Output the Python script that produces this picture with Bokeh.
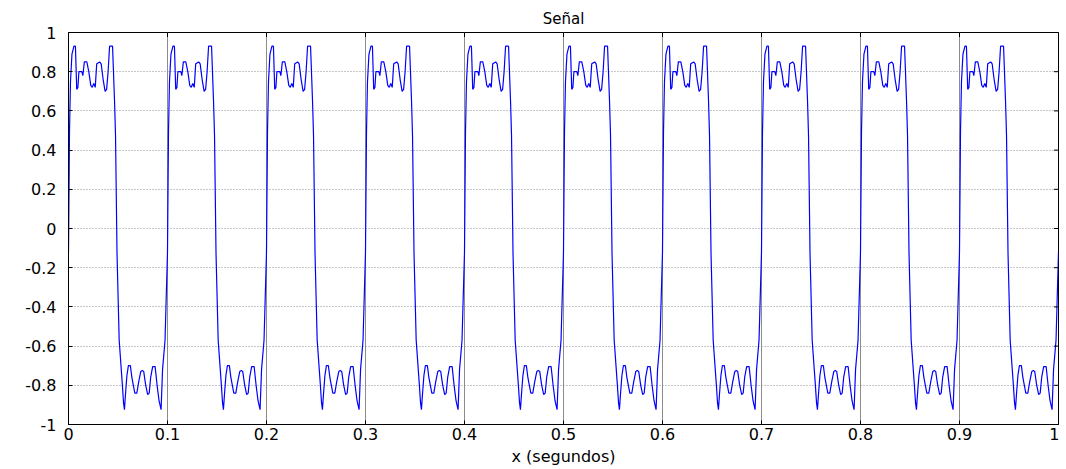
import numpy as np
from bokeh.plotting import figure
from bokeh.models import FixedTicker, Range1d
from bokeh.embed import file_html
from bokeh.resources import INLINE

# ---- data -----------------------------------------------------------------
# one period of the signal: time inside the period (ms) and value
period_ms = [0, 1, 2, 3.5, 5.5, 7, 8.3, 9.5, 10.5, 13.5, 14.5, 16, 18.5, 20.5,
             22.5, 24, 25.5, 27, 28.5, 31.5, 33, 35, 37, 38.5, 40, 41.5, 44.5,
             46.5, 47.5, 49, 51.2, 54.3, 55.6, 56.5, 57.5, 59, 60.5, 62.5, 64,
             65.5, 67, 69, 71, 73, 74.5, 76, 78, 80, 81.5, 83, 85, 87.5, 89.5,
             91.5, 93.5, 95, 97.5]
period_val = [-0.12, 0.49, 0.75, 0.89, 0.93, 0.93, 0.71, 0.72, 0.80, 0.80, 0.78,
              0.85, 0.85, 0.80, 0.73, 0.72, 0.74, 0.72, 0.84, 0.85, 0.84, 0.76,
              0.70, 0.71, 0.80, 0.93, 0.93, 0.65, 0.475, -0.125, -0.57, -0.79,
              -0.89, -0.924, -0.85, -0.75, -0.70, -0.70, -0.76, -0.80, -0.84,
              -0.84, -0.78, -0.73, -0.725, -0.73, -0.80, -0.847, -0.84, -0.76,
              -0.705, -0.705, -0.80, -0.88, -0.924, -0.72, -0.57]
n_periods = 10
period_len_ms = 100
end_ms = [1000]
end_val = [-0.12]

x_ticks = [0, 0.1, 0.2, 0.3, 0.4, 0.5, 0.6, 0.7, 0.8, 0.9, 1]
x_tick_labels = ["0", "0.1", "0.2", "0.3", "0.4", "0.5", "0.6", "0.7", "0.8", "0.9", "1"]
y_ticks = [-1, -0.8, -0.6, -0.4, -0.2, 0, 0.2, 0.4, 0.6, 0.8, 1]
y_tick_labels = ["-1", "-0.8", "-0.6", "-0.4", "-0.2", "0", "0.2", "0.4", "0.6", "0.8", "1"]

title_text = "Señal"
x_label = "x (segundos)"

# ---- build the series ------------------------------------------------------
t = np.concatenate([np.array(period_ms) + k * period_len_ms for k in range(n_periods)]
                   + [np.array(end_ms)]) / 1000.0
v = np.concatenate([np.array(period_val)] * n_periods + [np.array(end_val)])

FONT = "DejaVu Sans"
x_min, x_max = x_ticks[0], x_ticks[-1]
y_min, y_max = y_ticks[0], y_ticks[-1]

p = figure(width=1059, height=468, x_range=Range1d(x_min, x_max), y_range=Range1d(y_min, y_max),
           output_backend="svg", toolbar_location=None,
           min_border_left=68, min_border_right=1, min_border_top=32, min_border_bottom=43)

p.title.text = title_text
p.title.align = "center"
p.title.offset = -15
p.title.text_font = FONT
p.title.text_font_size = "15px"
p.title.text_font_style = "normal"
p.title.text_color = "black"

xt = FixedTicker(ticks=x_ticks)
yt = FixedTicker(ticks=y_ticks)

p.xgrid.ticker = xt
p.ygrid.ticker = yt
p.xgrid.grid_line_color = "#8c8c8c"
p.ygrid.grid_line_color = "#8c8c8c"
p.ygrid.grid_line_dash = "1 2"

p.line(t, v, line_color="#0000ff", line_width=1.2)

# inward ticks on the right and top edges of the box (half of each dash is clipped)
p.scatter([x_max] * len(y_ticks), y_ticks, marker="dash", size=9,
          line_color="black", line_width=1)
p.scatter(x_ticks, [y_max] * len(x_ticks), marker="dash", angle=np.pi / 2, size=9,
          line_color="black", line_width=1)

bx = p.below[0]
ly = p.left[0]
bx.ticker = xt
ly.ticker = yt
bx.major_label_overrides = {tk: lb for tk, lb in zip(x_ticks, x_tick_labels)}
ly.major_label_overrides = {tk: lb for tk, lb in zip(y_ticks, y_tick_labels)}

for ax in (bx, ly):
    ax.major_tick_in = 4
    ax.major_tick_out = 0
    ax.minor_tick_line_color = None
    ax.axis_line_color = "black"
    ax.major_tick_line_color = "black"
    ax.major_label_text_font = FONT
    ax.major_label_text_font_size = "16px"
    ax.major_label_text_color = "black"
bx.major_label_standoff = 3
ly.major_label_standoff = 12

bx.axis_label = x_label
bx.axis_label_text_font = FONT
bx.axis_label_text_font_size = "16px"
bx.axis_label_text_font_style = "normal"
bx.axis_label_text_color = "black"
bx.axis_label_standoff = 4

p.outline_line_color = "black"
p.outline_line_alpha = 1
p.background_fill_color = "white"
p.border_fill_color = "white"

open("out.html", "w").write(file_html(p, INLINE))
